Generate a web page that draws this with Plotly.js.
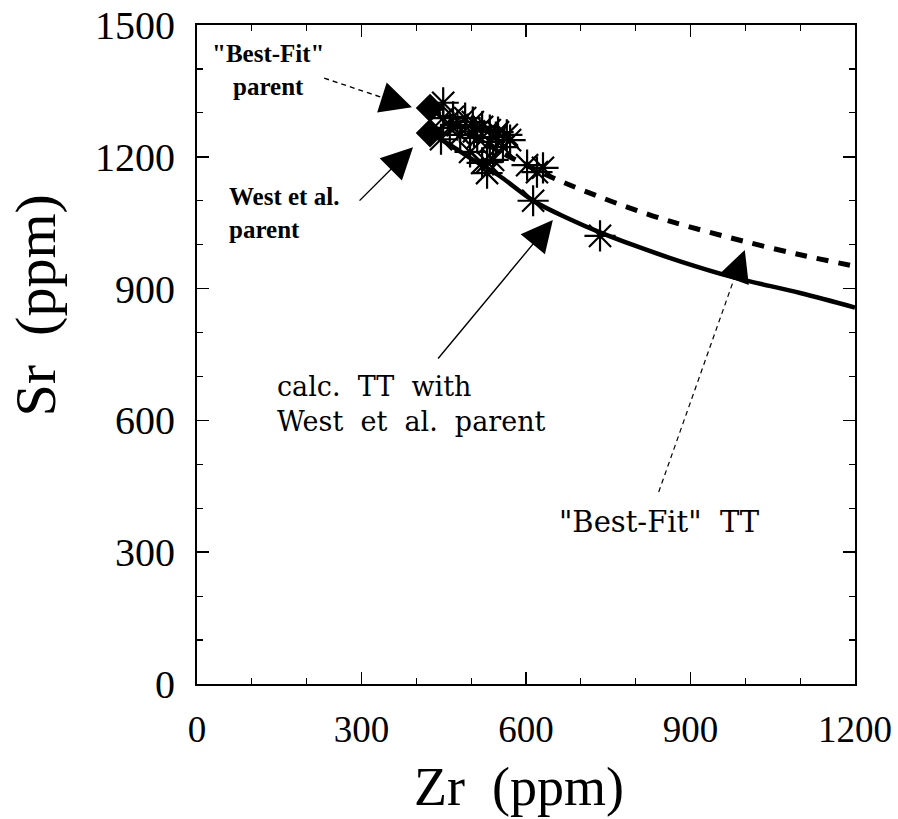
<!DOCTYPE html>
<html>
<head>
<meta charset="utf-8">
<script src="https://cdn.plot.ly/plotly-3.0.1.min.js"></script>
<style>html,body{margin:0;padding:0;background:#fff;}#chart{width:898px;height:819px;}</style>
</head>
<body>
<div id="chart"></div>
<script>
// Observed samples (asterisks)
var sampleZr = [449,467,449,461,480,489,503,520,534,549,565,511,534,558,571,498,529,540,529,520,602,631,620,613,735,445,475,505,545];
var sampleSr = [1323,1291,1288,1266,1250,1288,1279,1268,1261,1256,1250,1243,1234,1222,1238,1211,1188,1193,1163,1186,1181,1175,1165,1100,1020,1240,1272,1258,1245];

// Parent compositions (diamonds)
var parentZr = [425, 425];
var parentSr = [1311, 1254];

// Calculated TT with West et al. parent (solid)
var westZr = [425, 460, 500, 550, 613, 680, 735, 800, 881, 977, 1100, 1200];
var westSr = [1254, 1228, 1196, 1158, 1100, 1058, 1028, 997, 962, 926, 890, 857];

// "Best-Fit" TT (dashed)
var bestZr = [425, 500, 560, 620, 668, 740, 832, 900, 990, 1100, 1200];
var bestSr = [1311, 1250, 1207, 1169, 1142, 1106, 1065, 1040, 1010, 977, 951];

var xTicks = [0, 300, 600, 900, 1200];
var yTicks = [0, 300, 600, 900, 1200, 1500];

var serif = "Liberation Serif, Times New Roman, serif";
var wide = "DejaVu Serif, serif";

var traces = [
  {x: westZr, y: westSr, mode: 'lines', line: {color: '#000', width: 4.5, shape: 'spline'}, hoverinfo: 'skip'},
  {x: bestZr, y: bestSr, mode: 'lines', line: {color: '#000', width: 5, dash: '12px,10px', shape: 'spline'}, hoverinfo: 'skip'},
  {x: sampleZr, y: sampleSr, mode: 'markers', marker: {symbol: 'asterisk-open', size: 26, color: '#000', line: {color: '#000', width: 2.2}}},
  {x: parentZr, y: parentSr, mode: 'markers', marker: {symbol: 'diamond', size: 22, color: '#000', line: {width: 0}}}
];

var nb = '\u00a0';
function sp(s){ return s.replace(/ /g, nb + nb); }

var annotations = [
  // arrows
  {x: 392, y: 1313, xref: 'x', yref: 'y', ax: -22, ay: -7, showarrow: true, arrowhead: 2, arrowsize: 4.5, arrowwidth: 1.4, arrowcolor: '#000', text: ''},
  {x: 394, y: 1222, xref: 'x', yref: 'y', ax: -55, ay: 55, showarrow: true, arrowhead: 2, arrowsize: 4.5, arrowwidth: 1.4, arrowcolor: '#000', text: ''},
  {x: 649, y: 1056, xref: 'x', yref: 'y', ax: -116, ay: 140, showarrow: true, arrowhead: 2, arrowsize: 4.5, arrowwidth: 1.4, arrowcolor: '#000', text: ''},
  {x: 999, y: 988, xref: 'x', yref: 'y', ax: -8, ay: 22, showarrow: true, arrowhead: 2, arrowsize: 4.5, arrowwidth: 1.4, arrowcolor: '#000', text: ''},
  // texts
  {x: 129, y: 1397, xref: 'x', yref: 'y', showarrow: false, text: '"Best-Fit"<br>parent', align: 'center', font: {family: serif, size: 25, color: '#000', weight: 'bold'}},
  {x: 55, y: 1072, xref: 'x', yref: 'y', xanchor: 'left', showarrow: false, text: 'West et al.<br>parent', align: 'left', font: {family: serif, size: 25, color: '#000', weight: 'bold'}},
  {x: 142, y: 637, xref: 'x', yref: 'y', xanchor: 'left', showarrow: false, text: sp('calc. TT with') + '<br>' + sp('West et al. parent'), align: 'left', font: {family: wide, size: 27, color: '#000'}},
  {x: 657, y: 369, xref: 'x', yref: 'y', xanchor: 'left', showarrow: false, text: sp('"Best-Fit" TT'), align: 'left', font: {family: wide, size: 29, color: '#000'}},
  // axis titles
  {x: -0.298, y: 0.575, xref: 'paper', yref: 'paper', showarrow: false, textangle: -90, text: 'Sr' + nb + nb + '(ppm)', font: {family: serif, size: 58, color: '#000'}},
  {x: 0.49, y: -0.205, xref: 'paper', yref: 'paper', yanchor: 'bottom', showarrow: false, text: 'Zr' + nb + nb + '(ppm)', font: {family: serif, size: 54, color: '#000'}}
];

// dashed arrow shafts
var shapes = [
  {type: 'line', xref: 'x', yref: 'y', x0: 232, y0: 1379, x1: 352, y1: 1329, line: {color: '#000', width: 1.4, dash: '5px,4px'}},
  {type: 'line', xref: 'x', yref: 'y', x0: 842, y0: 437, x1: 984, y1: 938, line: {color: '#000', width: 1.2, dash: '5px,4px'}}
];

var layout = {
  width: 898, height: 819,
  margin: {l: 197, r: 43, t: 25, b: 135},
  paper_bgcolor: '#fff', plot_bgcolor: '#fff',
  showlegend: false,
  font: {family: serif, color: '#000'},
  xaxis: {
    range: [0, 1200], tickvals: xTicks, ticktext: xTicks.map(String),
    ticks: 'inside', ticklen: 12, tickwidth: 1.5, tickcolor: '#000',
    minor: {dtick: 100, tick0: 0, ticks: 'inside', ticklen: 6, tickwidth: 1.2, tickcolor: '#000'},
    showline: true, linecolor: '#000', linewidth: 2, mirror: 'ticks',
    showgrid: false, zeroline: false,
    tickfont: {family: serif, size: 37, color: '#000'},
    ticklabelstandoff: 12
  },
  yaxis: {
    range: [0, 1500], tickvals: yTicks, ticktext: yTicks.map(String),
    ticks: 'inside', ticklen: 12, tickwidth: 1.5, tickcolor: '#000',
    minor: {dtick: 100, tick0: 0, ticks: 'inside', ticklen: 6, tickwidth: 1.2, tickcolor: '#000'},
    showline: true, linecolor: '#000', linewidth: 2, mirror: 'ticks',
    showgrid: false, zeroline: false,
    tickfont: {family: serif, size: 40, color: '#000'},
    ticklabelstandoff: 12
  },
  annotations: annotations,
  shapes: shapes
};

Plotly.newPlot('chart', traces, layout, {displayModeBar: false, staticPlot: true});
</script>
</body>
</html>
